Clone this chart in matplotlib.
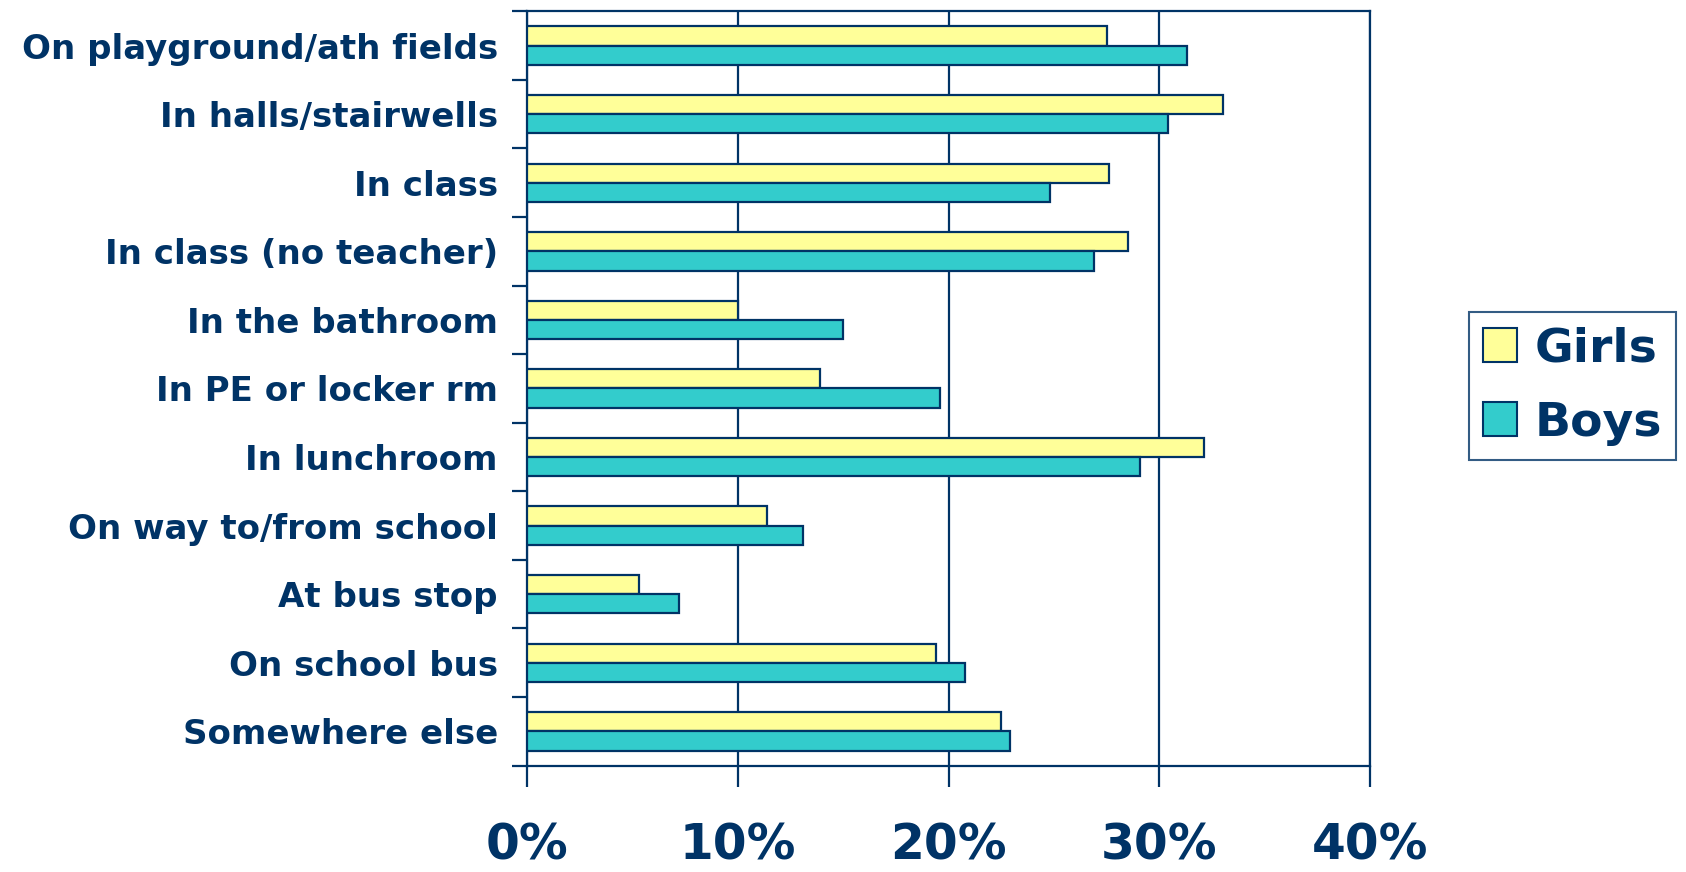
import matplotlib
matplotlib.use("Agg")
import matplotlib.pyplot as plt
import numpy as np
from matplotlib.patches import Patch

categories = [
    "On playground/ath fields",
    "In halls/stairwells",
    "In class",
    "In class (no teacher)",
    "In the bathroom",
    "In PE or locker rm",
    "In lunchroom",
    "On way to/from school",
    "At bus stop",
    "On school bus",
    "Somewhere else",
]
girls = [27.5, 33.0, 27.6, 28.5, 10.0, 13.9, 32.1, 11.4, 5.3, 19.4, 22.5]
boys = [31.3, 30.4, 24.8, 26.9, 15.0, 19.6, 29.1, 13.1, 7.2, 20.8, 22.9]
series_names = ["Girls", "Boys"]
x_ticks = [0, 10, 20, 30, 40]
x_tick_labels = ["0%", "10%", "20%", "30%", "40%"]

navy = "#003366"
yellow = "#FFFF99"
teal = "#33CCCC"

fig = plt.figure(figsize=(16.86, 8.72), dpi=100)
ax = fig.add_axes([0.3126, 0.122, 0.5, 0.865])

n = len(categories)
centers = np.arange(n) + 0.5
bar_h = 0.28
ax.barh(centers - bar_h / 2, girls, height=bar_h, color=yellow,
        edgecolor=navy, linewidth=1.6, zorder=3)
ax.barh(centers + bar_h / 2, boys, height=bar_h, color=teal,
        edgecolor=navy, linewidth=1.6, zorder=3)

ax.set_xlim(0, 40)
ax.set_ylim(n, 0)

# vertical gridlines at each 10%
ax.set_xticks(x_ticks)
ax.set_xticklabels(x_tick_labels, fontsize=35, fontweight="bold",
                   color=navy, fontfamily="DejaVu Sans")
ax.xaxis.grid(True, color=navy, linewidth=1.6, zorder=0)
ax.tick_params(axis="x", length=15, width=1.6, color=navy, pad=25)

# category labels centered on each group, ticks on group boundaries
ax.set_yticks(np.arange(n + 1))
ax.set_yticklabels([])
ax.set_yticks(centers, minor=True)
ax.set_yticklabels(categories, minor=True, fontsize=24.5, fontweight="bold",
                   color=navy, fontfamily="DejaVu Sans")
ax.tick_params(axis="y", which="major", length=11, width=1.6, color=navy)
ax.tick_params(axis="y", which="minor", length=0, pad=21)

for s in ax.spines.values():
    s.set_color(navy)
    s.set_linewidth(1.6)

handles = [Patch(facecolor=yellow, edgecolor=navy, linewidth=1.5),
           Patch(facecolor=teal, edgecolor=navy, linewidth=1.5)]
leg = fig.legend(handles, series_names, loc="center",
                 bbox_to_anchor=(0.9325, 0.557),
                 prop={"family": "DejaVu Sans", "weight": "bold", "size": 34},
                 frameon=True, fancybox=False, handlelength=0.73,
                 handleheight=0.73, handletextpad=0.36, labelspacing=0.62,
                 borderpad=0.3, borderaxespad=0)
leg.get_frame().set_edgecolor(navy)
leg.get_frame().set_linewidth(1.5)
for t in leg.get_texts():
    t.set_color(navy)

fig.savefig("out.png", dpi=100)
